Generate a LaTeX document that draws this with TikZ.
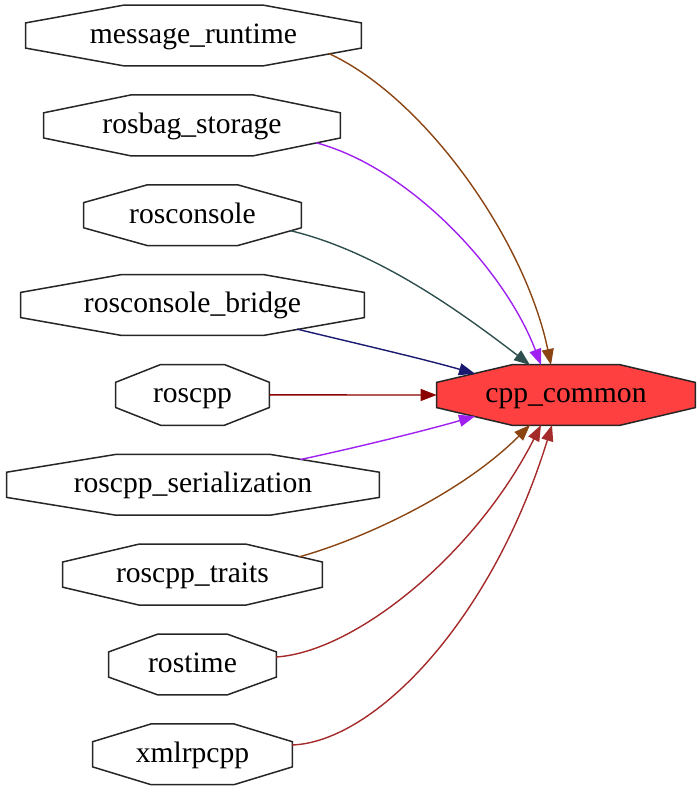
\documentclass[tikz,border=0pt]{standalone}
\usepackage{fontspec}
\setmainfont{Liberation Serif}
\usetikzlibrary{arrows.meta,calc,backgrounds}
\definecolor{cSaddle}{HTML}{8B4513}
\definecolor{cPurple}{HTML}{A020F0}
\definecolor{cSlate}{HTML}{2F4F4F}
\definecolor{cMidnight}{HTML}{191970}
\definecolor{cDarkred}{HTML}{8B0000}
\definecolor{cBrown}{HTML}{A52A2A}
\definecolor{cHot}{HTML}{FF4040}
\newcommand\octoshape[2]{%
  \draw[octline,fill=#2]
    ($(#1.north west)!0.293!(#1.north east)$) --
    ($(#1.north west)!0.707!(#1.north east)$) --
    ($(#1.north east)!0.293!(#1.south east)$) --
    ($(#1.north east)!0.707!(#1.south east)$) --
    ($(#1.south west)!0.707!(#1.south east)$) --
    ($(#1.south west)!0.293!(#1.south east)$) --
    ($(#1.north west)!0.707!(#1.south west)$) --
    ($(#1.north west)!0.293!(#1.south west)$) -- cycle;}
\begin{document}
\begin{tikzpicture}[x=0.5pt,y=-0.5pt,
  pkg/.style={inner sep=0pt,minimum height=30pt,text height=11pt,text depth=3.2pt,font=\fontsize{14.8}{17}\selectfont},
  octline/.style={draw=black!85,line width=0.75pt,line join=miter},
  dep/.style={line width=0.7pt,-{Triangle[length=8pt,width=6pt]}}]
\useasboundingbox (0,0) rectangle (700,792);
\node[pkg,minimum width=167.5pt] (mr) at (193.5,35.5) {message\_runtime};
\node[pkg,minimum width=148pt] (rb) at (192,125.4) {rosbag\_storage};
\node[pkg,minimum width=108.5pt] (rc) at (192.5,215.2) {rosconsole};
\node[pkg,minimum width=171.5pt] (rcb) at (192.5,305) {rosconsole\_bridge};
\node[pkg,minimum width=76.5pt] (rp) at (192.5,394.9) {roscpp};
\node[pkg,minimum width=186pt] (rs) at (193,484.8) {roscpp\_serialization};
\node[pkg,minimum width=129.5pt] (rt) at (192.5,574.6) {roscpp\_traits};
\node[pkg,minimum width=83.5pt] (rtm) at (192.5,664.5) {rostime};
\node[pkg,minimum width=99.5pt] (xr) at (192.5,754.3) {xmlrpcpp};
\node[pkg,minimum width=129pt] (cpp) at (566,395) {cpp\_common};
\begin{pgfonlayer}{background}
\foreach \n in {mr,rb,rc,rcb,rp,rs,rt,rtm,xr}{\octoshape{\n}{white}}
\octoshape{cpp}{cHot}
\end{pgfonlayer}
\draw[dep,cSaddle] ($(mr)+(135.5,18.1)$) .. controls (425,98) and (525,240) .. ($(cpp)+(-15,-30)$);
\draw[dep,cPurple] ($(rb)+(124,17.3)$) .. controls (410,168) and (505,270) .. ($(cpp)+(-25,-30)$);
\draw[dep,cSlate] ($(rc)+(97.5,15.4)$) .. controls (372,250) and (452,305) .. ($(cpp)+(-36,-30)$);
\draw[dep,cMidnight] ($(rcb)+(104.5,24.1)$) .. controls (350,342) and (420,358) .. ($(cpp)+(-91,-21.3)$);
\draw[dep,cDarkred] (rp.east) -- (cpp.west);
\draw[dep,cPurple] ($(rs)+(107,-25.2)$) .. controls (350,449) and (420,432) .. ($(cpp)+(-91,21.3)$);
\draw[dep,cSaddle] ($(rt)+(106.5,-17.7)$) .. controls (360,540) and (460,495) .. ($(cpp)+(-36,30)$);
\draw[dep,cBrown] ($(rtm)+(83.5,-7.5)$) .. controls (355,652) and (475,555) .. ($(cpp)+(-25,30)$);
\draw[dep,cBrown] ($(xr)+(99.5,-9.3)$) .. controls (375,742) and (492,620) .. ($(cpp)+(-14,30)$);
\end{tikzpicture}
\end{document}
